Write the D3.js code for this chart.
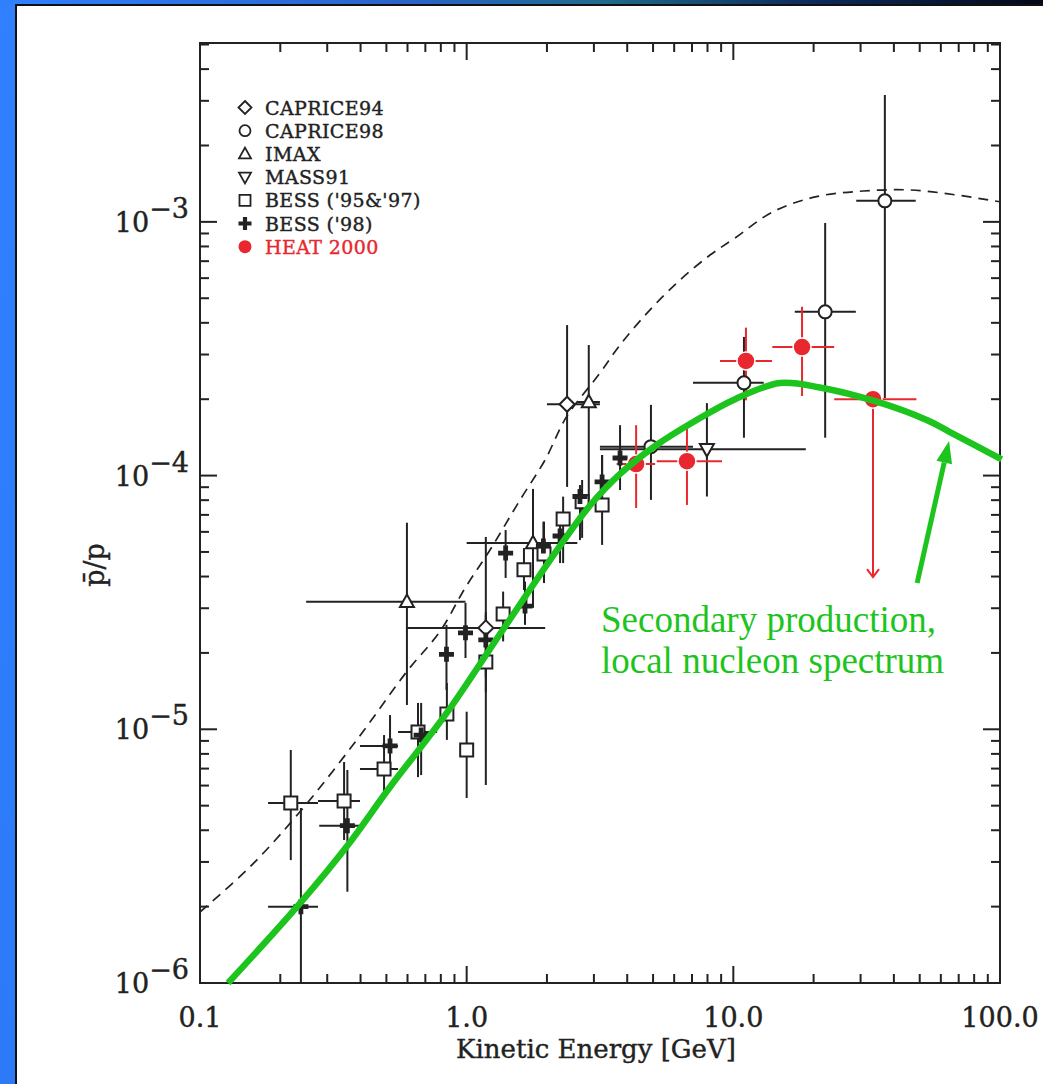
<!DOCTYPE html>
<html><head><meta charset="utf-8">
<script src="https://cdn.jsdelivr.net/npm/d3@7"></script>
<style>html,body{margin:0;padding:0;background:#fff;}svg{display:block;}</style>
</head><body>
<svg id="chart" width="1043" height="1084"></svg>
<script>
// ---------- data ----------
// each row: [E (GeV), pbar/p, E low, E high, value low, value high]
const caprice94 = [
  [1.18, 2.51e-5, 0.596, 1.97, 6.03e-6, 5.73e-5],
  [2.38, 1.91e-4, 2.0, 3.16, 9.02e-5, 3.92e-4]
];
const caprice98 = [
  [4.91, 1.30e-4, 3.16, 7.06, 8.02e-5, 1.90e-4],
  [10.96, 2.32e-4, 7.06, 13.0, 1.41e-4, 3.52e-4],
  [22.1, 4.42e-4, 17.0, 28.8, 1.41e-4, 9.9e-4],
  [37.0, 1.21e-3, 28.9, 48.3, 2.02e-4, 3.16e-3]
];
const imax = [
  [0.597, 3.18e-5, 0.250, 0.99, 1.247e-5, 6.52e-5],
  [1.773, 5.42e-5, 1.0, 2.6, 3.01e-5, 8.86e-5],
  [2.87, 1.95e-4, 2.6, 3.16, 8.02e-5, 3.27e-4]
];
const mass91 = [
  [7.96, 1.27e-4, 3.16, 18.7, 8.27e-5, 1.93e-4]
];
const bess9597 = [
  [0.219, 5.12e-6, 0.180, 0.277, 3.05e-6, 8.29e-6],
  [0.347, 5.22e-6, 0.277, 0.398, 3.66e-6, 7.43e-6],
  [0.490, 6.97e-6, 0.398, 0.553, 5.61e-6, 9.49e-6],
  [0.657, 9.75e-6, 0.553, 0.775, 6.48e-6, 1.27e-5],
  [0.843, 1.148e-5, null, null, 9.08e-6, 1.522e-5],
  [1.00, 8.29e-6, null, null, 5.36e-6, 1.173e-5],
  [1.18, 1.84e-5, null, null, 1.4e-5, 2.82e-5],
  [1.37, 2.85e-5, null, null, 2.22e-5, 3.49e-5],
  [1.64, 4.25e-5, null, null, 3.54e-5, 5.18e-5],
  [1.95, 4.91e-5, null, null, 3.77e-5, 6.58e-5],
  [2.30, 6.75e-5, null, null, 4.52e-5, 8.26e-5],
  [2.71, 7.89e-5, null, null, 5.68e-5, 9.61e-5],
  [3.22, 7.66e-5, null, null, 5.33e-5, 1.205e-4]
];
const bess98 = [
  [0.239, 2.0e-6, 0.180, 0.277, 4.0e-7, 4.90e-6],
  [0.357, 4.17e-6, 0.280, 0.398, 2.29e-6, 6.91e-6],
  [0.516, 8.60e-6, 0.398, 0.553, 6.6e-6, 1.138e-5],
  [0.675, 9.49e-6, null, null, 6.6e-6, 1.27e-5],
  [0.84, 1.975e-5, null, null, 1.43e-5, 2.58e-5],
  [0.99, 2.40e-5, null, null, 1.91e-5, 3.15e-5],
  [1.18, 2.25e-5, null, null, 1.6e-5, 2.9e-5],
  [1.40, 4.95e-5, null, null, 3.95e-5, 6.10e-5],
  [1.655, 3.06e-5, null, null, 2.58e-5, 3.82e-5],
  [1.94, 5.28e-5, null, null, 4.65e-5, 6.58e-5],
  [2.24, 5.78e-5, null, null, 4.52e-5, 7.0e-5],
  [2.66, 8.27e-5, null, null, 5.57e-5, 9.18e-5],
  [3.22, 9.44e-5, null, null, 7.80e-5, 1.205e-4],
  [3.76, 1.173e-4, null, null, 8.77e-5, 1.58e-4]
];
const heat2000 = [
  [4.32, 1.11e-4, 3.65, 5.09, 7.45e-5, 1.58e-4],
  [6.70, 1.14e-4, 5.16, 9.07, 7.66e-5, 1.612e-4],
  [11.15, 2.83e-4, 8.91, 13.96, 1.98e-4, 3.83e-4],
  [18.1, 3.21e-4, 14.0, 23.9, 2.06e-4, 4.63e-4]
];
// upper limit: [E, value, E low, E high, arrow end]
const heat2000Limit = [
  [33.4, 2.00e-4, 23.9, 48.6, 3.98e-5]
];
// secondary production, local nucleon spectrum (green curve)
const secondaryE = [0.1274, 0.237, 0.355, 0.516, 0.841, 1.334, 2.239, 2.90, 3.76, 5.09, 7.18, 10.15, 14.96, 21.1, 34.5, 53.1, 64.9, 101.4];
const secondaryV = [1.0e-6, 2.06e-6, 3.45e-6, 5.925e-6, 1.157e-5, 2.375e-5, 5.28e-5, 7.62e-5, 1.015e-4, 1.308e-4, 1.641e-4, 2.0e-4, 2.317e-4, 2.225e-4, 1.955e-4, 1.656e-4, 1.485e-4, 1.159e-4];
// dashed curve
const dashedE = [0.1, 0.154, 0.237, 0.387, 0.596, 0.794, 0.986, 1.223, 1.585, 1.967, 2.37, 3.12, 3.76, 4.87, 6.31, 8.18, 10.1, 14.1, 20.5, 30.7, 46.0, 68.8, 90.4, 100];
const dashedV = [1.905e-6, 2.87e-6, 4.73e-6, 9.07e-6, 1.687e-5, 2.43e-5, 3.60e-5, 5.09e-5, 8.01e-5, 1.152e-4, 1.707e-4, 2.49e-4, 3.27e-4, 4.50e-4, 5.90e-4, 7.40e-4, 8.61e-4, 1.097e-3, 1.257e-3, 1.323e-3, 1.336e-3, 1.276e-3, 1.220e-3, 1.20e-3];

const xTickValues = [0.1, 1, 10, 100];
const xTickLabels = ["0.1", "1.0", "10.0", "100.0"];
const yTickValues = [1e-6, 1e-5, 1e-4, 1e-3];
const yTickExponents = ["−6", "−5", "−4", "−3"];
const legendNames = ["CAPRICE94", "CAPRICE98", "IMAX", "MASS91", "BESS ('95&'97)", "BESS ('98)", "HEAT 2000"];
const annotationLines = ["Secondary production,", "local nucleon spectrum"];
const xTitle = "Kinetic Energy [GeV]";
const yTitle = "p\u0304/p";

// ---------- layout ----------
const svg = d3.select("#chart");
const L = 200, R = 1000, T = 43, B = 983;
const x = d3.scaleLog().domain([0.1, 100]).range([L, R]);
const y = d3.scaleLog().domain([1e-6, 5.07e-3]).range([B, T]);
const INK = "#222";
const RED = "#e8282e";
const GREEN = "#1ec41e";
const AXFONT = "'DejaVu Serif', serif";

// slide background
const defs = svg.append("defs");
const g1 = defs.append("linearGradient").attr("id", "topgrad").attr("x1", "0%").attr("x2", "100%");
[["0%", "#3080ff"], ["40%", "#2a63c8"], ["58%", "#1d6b8c"], ["78%", "#0e2a5a"], ["100%", "#040818"]]
  .forEach(([o, c]) => g1.append("stop").attr("offset", o).attr("stop-color", c));
const g2 = defs.append("linearGradient").attr("id", "leftgrad").attr("x1", "0%").attr("x2", "0%").attr("y1", "0%").attr("y2", "100%");
[["0%", "#3080ff"], ["100%", "#2c7af8"]].forEach(([o, c]) => g2.append("stop").attr("offset", o).attr("stop-color", c));
svg.append("rect").attr("x", 0).attr("y", 0).attr("width", 1043).attr("height", 1084).attr("fill", "url(#leftgrad)");
svg.append("rect").attr("x", 0).attr("y", 0).attr("width", 1043).attr("height", 5).attr("fill", "url(#topgrad)");
svg.append("rect").attr("x", 16).attr("y", 5).attr("width", 1040).attr("height", 1090)
  .attr("fill", "#fff").attr("stroke", "#111").attr("stroke-width", 2);

// clip
defs.append("clipPath").attr("id", "plotclip").append("rect")
  .attr("x", L).attr("y", T).attr("width", R - L).attr("height", B - T);

// ---------- axes frame & ticks ----------
const axes = svg.append("g");
axes.append("rect").attr("x", L).attr("y", T).attr("width", R - L).attr("height", B - T)
  .attr("fill", "none").attr("stroke", INK).attr("stroke-width", 2);

const xMinor = [];
[0.1, 1, 10].forEach(d => { for (let k = 2; k <= 9; k++) xMinor.push(d * k); });
const yMinor = [];
[1e-6, 1e-5, 1e-4, 1e-3].forEach(d => { for (let k = 2; k <= 9; k++) if (d * k < 5.07e-3) yMinor.push(d * k); });
const MAJ = 17, MIN = 9;
function xt(vals, len) {
  vals.forEach(v => {
    const px = x(v);
    axes.append("line").attr("x1", px).attr("x2", px).attr("y1", B).attr("y2", B - len).attr("stroke", INK).attr("stroke-width", 2);
    axes.append("line").attr("x1", px).attr("x2", px).attr("y1", T).attr("y2", T + len).attr("stroke", INK).attr("stroke-width", 2);
  });
}
function yt(vals, len) {
  vals.forEach(v => {
    const py = y(v);
    axes.append("line").attr("x1", L).attr("x2", L + len).attr("y1", py).attr("y2", py).attr("stroke", INK).attr("stroke-width", 2);
    axes.append("line").attr("x1", R).attr("x2", R - len).attr("y1", py).attr("y2", py).attr("stroke", INK).attr("stroke-width", 2);
  });
}
xt(xTickValues, MAJ); xt(xMinor, MIN);
yt(yTickValues, MAJ); yt(yMinor, MIN);

// tick labels
xTickValues.forEach((v, i) => {
  axes.append("text").attr("x", x(v)).attr("y", B + 44).attr("text-anchor", "middle")
    .attr("font-family", AXFONT).attr("font-size", 27).attr("fill", INK)
    .attr("stroke", INK).attr("stroke-width", 0.4).text(xTickLabels[i]);
});
yTickValues.forEach((v, i) => {
  const t = axes.append("text").attr("x", 189).attr("y", y(v) + 10).attr("text-anchor", "end")
    .attr("font-family", AXFONT).attr("font-size", 27).attr("fill", INK)
    .attr("stroke", INK).attr("stroke-width", 0.4);
  t.append("tspan").text("10");
  t.append("tspan").attr("dy", -14).text(yTickExponents[i]);
});
axes.append("text").attr("x", (L + R) / 2 - 4).attr("y", 1058).attr("text-anchor", "middle")
  .attr("font-family", AXFONT).attr("font-size", 26).attr("fill", INK)
  .attr("stroke", INK).attr("stroke-width", 0.4).text(xTitle);
axes.append("text").attr("transform", `translate(104,${(T + B) / 2 + 52}) rotate(-90)`).attr("text-anchor", "middle")
  .attr("font-family", AXFONT).attr("font-size", 27).attr("fill", INK)
  .attr("stroke", INK).attr("stroke-width", 0.4).text(yTitle);

// ---------- marker shapes ----------
const shapes = {
  diamond: s => `M0,${-s}L${s},0L0,${s}L${-s},0Z`,
  square: s => `M${-s},${-s}H${s}V${s}H${-s}Z`,
  triUp: s => `M0,${-s * 1.05}L${s},${s * 0.75}L${-s},${s * 0.75}Z`,
  triDown: s => `M0,${s * 1.05}L${s},${-s * 0.75}L${-s},${-s * 0.75}Z`,
  cross: s => { const t = s * 0.32; return `M${-t},${-s}H${t}V${-t}H${s}V${t}H${t}V${s}H${-t}V${t}H${-s}V${-t}H${-t}Z`; },
  circle: s => `M${s},0A${s},${s} 0 1,1 ${-s},0A${s},${s} 0 1,1 ${s},0Z`
};

const plot = svg.append("g").attr("clip-path", "url(#plotclip)");
const barLayer = plot.append("g");
const markLayer = plot.append("g");

function errorBars(data, color) {
  data.forEach(d => {
    const [e, v, el, eh, vl, vh] = d;
    if (el != null) barLayer.append("line").attr("x1", x(el)).attr("x2", x(eh)).attr("y1", y(v)).attr("y2", y(v))
      .attr("stroke", color).attr("stroke-width", 2);
    if (vl != null) barLayer.append("line").attr("x1", x(e)).attr("x2", x(e)).attr("y1", y(vl)).attr("y2", y(vh))
      .attr("stroke", color).attr("stroke-width", 2);
  });
}
function markers(data, shape, size, fill, stroke, sw) {
  markLayer.selectAll(null).data(data).enter().append("path")
    .attr("transform", d => `translate(${x(d[0])},${y(d[1])})`)
    .attr("d", shapes[shape](size)).attr("fill", fill).attr("stroke", stroke).attr("stroke-width", sw);
}

const openSeries = [
  [caprice94, "diamond", 7.5],
  [caprice98, "circle", 6.5],
  [imax, "triUp", 7],
  [mass91, "triDown", 7],
  [bess9597, "square", 6.5]
];
openSeries.forEach(([d]) => errorBars(d, INK));
errorBars(bess98, INK);
errorBars(heat2000, RED);
heat2000Limit.forEach(d => {
  const [e, v, el, eh, vend] = d;
  barLayer.append("line").attr("x1", x(el)).attr("x2", x(eh)).attr("y1", y(v)).attr("y2", y(v)).attr("stroke", RED).attr("stroke-width", 2);
  barLayer.append("line").attr("x1", x(e)).attr("x2", x(e)).attr("y1", y(v)).attr("y2", y(vend)).attr("stroke", RED).attr("stroke-width", 2);
  barLayer.append("path").attr("d", `M${x(e) - 6},${y(vend) - 8}L${x(e)},${y(vend)}L${x(e) + 6},${y(vend) - 8}`)
    .attr("fill", "none").attr("stroke", RED).attr("stroke-width", 2);
});
openSeries.forEach(([d, s, sz]) => markers(d, s, sz, "#fff", INK, 2));
markers(bess98, "cross", 7.5, INK, "none", 0);
markers(heat2000, "circle", 9, RED, "#fff", 1.5);
markers(heat2000Limit, "circle", 9, RED, "#fff", 1.5);

// ---------- curves ----------
const dline = d3.line().x(d => x(d[0])).y(d => y(d[1])).curve(d3.curveCatmullRom.alpha(0.5));
const gline = d3.line().x(d => x(d[0])).y(d => y(d[1])).curve(d3.curveCatmullRom.alpha(0.5));
plot.append("path").datum(dashedE.map((e, i) => [e, dashedV[i]])).attr("d", dline)
  .attr("fill", "none").attr("stroke", INK).attr("stroke-width", 1.7).attr("stroke-dasharray", "10,7");
svg.append("path").datum(secondaryE.map((e, i) => [e, secondaryV[i]])).attr("d", gline)
  .attr("fill", "none").attr("stroke", GREEN).attr("stroke-width", 6.5);

// ---------- annotation ----------
const arrowFrom = [48.9, 3.77e-5], arrowTo = [64.4, 1.369e-4];
const ax0 = x(arrowFrom[0]), ay0 = y(arrowFrom[1]), ax1 = x(arrowTo[0]), ay1 = y(arrowTo[1]);
const ang = Math.atan2(ay1 - ay0, ax1 - ax0);
const hl = 22, hw = 8;
const bx = ax1 - hl * Math.cos(ang), by = ay1 - hl * Math.sin(ang);
svg.append("line").attr("x1", ax0).attr("y1", ay0).attr("x2", bx).attr("y2", by).attr("stroke", GREEN).attr("stroke-width", 5);
svg.append("path").attr("d", `M${ax1},${ay1}L${bx + hw * Math.sin(ang)},${by - hw * Math.cos(ang)}L${bx - hw * Math.sin(ang)},${by + hw * Math.cos(ang)}Z`)
  .attr("fill", GREEN);
annotationLines.forEach((t, i) => {
  svg.append("text").attr("x", 601).attr("y", 632 + i * 41).attr("font-family", "'Liberation Serif', 'Times New Roman', serif")
    .attr("font-size", 37).attr("fill", GREEN).text(t);
});

// ---------- legend ----------
const legendShapes = [["diamond", 6.5, "#fff", INK, 1.8], ["circle", 5.5, "#fff", INK, 1.8], ["triUp", 6, "#fff", INK, 1.8],
  ["triDown", 6, "#fff", INK, 1.8], ["square", 5.5, "#fff", INK, 1.8], ["cross", 6.5, INK, "none", 0], ["circle", 6.5, RED, "none", 0]];
const legend = svg.append("g");
legendNames.forEach((n, i) => {
  const cy = 107.5 + i * 23.2;
  const [s, sz, f, st, sw] = legendShapes[i];
  const col = i === 6 ? RED : INK;
  legend.append("path").attr("transform", `translate(245,${cy})`).attr("d", shapes[s](sz))
    .attr("fill", f).attr("stroke", st).attr("stroke-width", sw);
  legend.append("text").attr("x", 265).attr("y", cy + 7).attr("font-family", AXFONT).attr("font-size", 19)
    .attr("letter-spacing", 0.4).attr("fill", col).attr("stroke", col).attr("stroke-width", 0.4).text(n);
});
</script>
</body></html>
